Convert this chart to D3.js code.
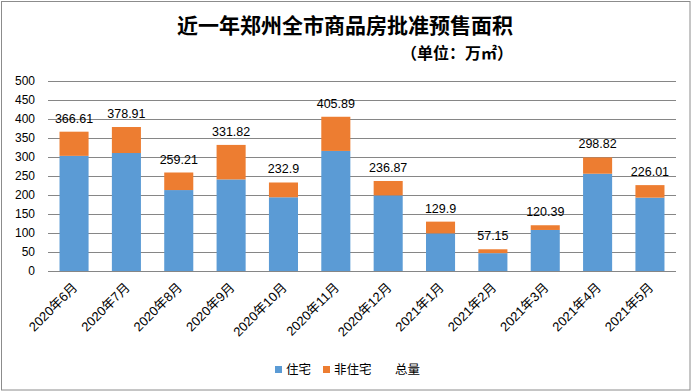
<!DOCTYPE html>
<html><head><meta charset="utf-8">
<script src="https://cdn.jsdelivr.net/npm/d3@7"></script>
<style>body{margin:0;background:#fff}svg{display:block}</style>
</head><body>
<svg id="c" width="692" height="392"></svg>
<script>
const categories = ["2020年6月","2020年7月","2020年8月","2020年9月","2020年10月","2020年11月","2020年12月","2021年1月","2021年2月","2021年3月","2021年4月","2021年5月"];
const residential = [303, 310.5, 213, 241, 194, 316, 199, 99, 47, 108, 256, 193];
const total = [366.61, 378.91, 259.21, 331.82, 232.9, 405.89, 236.87, 129.9, 57.15, 120.39, 298.82, 226.01];
const nonResidential = total.map((t, i) => +(t - residential[i]).toFixed(2));
const yTicks = [0, 50, 100, 150, 200, 250, 300, 350, 400, 450, 500];

const svg = d3.select("#c");
const font = "'Liberation Sans', Arial, 'Noto Sans CJK SC', sans-serif";

svg.append("rect").attr("x", 1.5).attr("y", 1.5).attr("width", 688.5).attr("height", 388.5)
  .attr("fill", "#fff").attr("stroke", "#8c8c8c").attr("stroke-width", 1);

const x = d3.scaleBand().domain(categories).range([48, 676]).paddingInner(0.445).paddingOuter(0.22);
const y = d3.scaleLinear().domain([0, 500]).range([271, 81]);

// gridlines
svg.append("g").selectAll("line").data(yTicks).join("line")
  .attr("x1", 48).attr("x2", 676)
  .attr("y1", d => Math.round(y(d)) + 0.5).attr("y2", d => Math.round(y(d)) + 0.5)
  .attr("stroke", "#868686").attr("stroke-width", 1);

// y labels
svg.append("g").selectAll("text").data(yTicks).join("text")
  .attr("x", 35).attr("y", d => y(d)).attr("dy", "0.35em")
  .attr("text-anchor", "end").attr("font-family", font).attr("font-size", 12).attr("fill", "#000")
  .text(d => d);

// bars
const g = svg.append("g");
g.selectAll("rect.res").data(categories).join("rect").attr("class", "res")
  .attr("x", d => x(d)).attr("width", x.bandwidth())
  .attr("y", (d, i) => y(residential[i])).attr("height", (d, i) => y(0) - y(residential[i]))
  .attr("fill", "#5B9BD5");
g.selectAll("rect.non").data(categories).join("rect").attr("class", "non")
  .attr("x", d => x(d)).attr("width", x.bandwidth())
  .attr("y", (d, i) => y(residential[i] + nonResidential[i])).attr("height", (d, i) => y(residential[i]) - y(residential[i] + nonResidential[i]))
  .attr("fill", "#ED7D31");

// total labels
g.selectAll("text.tot").data(categories).join("text").attr("class", "tot")
  .attr("x", d => x(d) + x.bandwidth() / 2).attr("y", (d, i) => y(total[i]) - 9)
  .attr("text-anchor", "middle").attr("font-family", font).attr("font-size", 12.5).attr("fill", "#000")
  .text((d, i) => total[i]);

// x labels
svg.append("g").selectAll("text").data(categories).join("text")
  .attr("transform", d => `translate(${x(d) + x.bandwidth() / 2 + 1},${285}) rotate(-45)`)
  .attr("text-anchor", "end").attr("dy", "0.35em")
  .attr("font-family", font).attr("font-size", 13).attr("fill", "#000")
  .text(d => d);

// title
svg.append("text").attr("x", 345).attr("y", 33).attr("text-anchor", "middle")
  .attr("font-family", "'Noto Sans CJK SC', sans-serif").attr("font-weight", "bold").attr("font-size", 21)
  .attr("fill", "#000").text("近一年郑州全市商品房批准预售面积");
svg.append("text").attr("x", 457).attr("y", 59).attr("text-anchor", "middle")
  .attr("font-family", "'Noto Sans CJK SC', sans-serif").attr("font-weight", "bold").attr("font-size", 16)
  .attr("fill", "#000").text("（单位：万㎡）");

// legend
const legend = [
  {label: "住宅", color: "#5B9BD5", x: 275},
  {label: "非住宅", color: "#ED7D31", x: 323},
  {label: "总量", color: null, x: 384}
];
const lg = svg.append("g");
legend.forEach(l => {
  if (l.color) lg.append("rect").attr("x", l.x).attr("y", 366).attr("width", 7).attr("height", 7).attr("fill", l.color);
  lg.append("text").attr("x", l.x + 11).attr("y", 370).attr("dy", "0.35em")
    .attr("font-family", "'Noto Sans CJK SC', sans-serif").attr("font-size", 12.5).attr("fill", "#000").text(l.label);
});
</script>
</body></html>
